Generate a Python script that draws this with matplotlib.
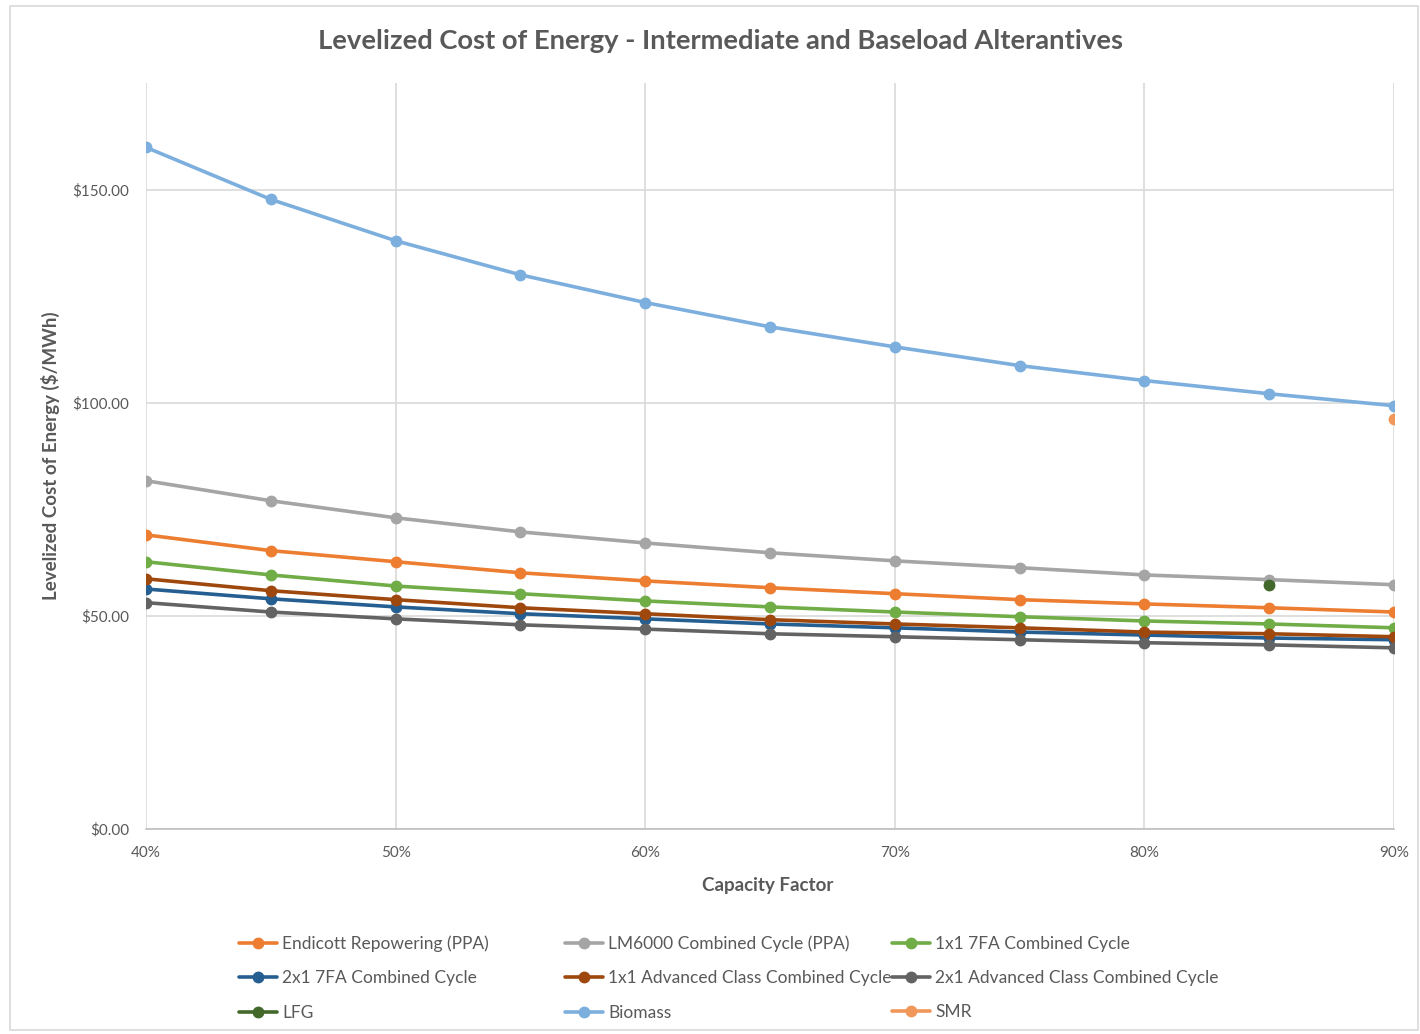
import numpy as np
import matplotlib.pyplot as plt
from matplotlib.patches import Rectangle
from matplotlib.ticker import FuncFormatter, MultipleLocator

plt.rcParams['font.family'] = ['Lato', 'DejaVu Sans']

capacity = [0.40, 0.45, 0.50, 0.55, 0.60, 0.65, 0.70, 0.75, 0.80, 0.85, 0.90]

endicott = [69.0, 65.3, 62.7, 60.1, 58.2, 56.6, 55.2, 53.8, 52.8, 51.9, 50.9]
lm6000 = [81.7, 77.0, 73.0, 69.7, 67.1, 64.8, 62.9, 61.3, 59.6, 58.5, 57.3]
fa_1x1 = [62.7, 59.6, 57.0, 55.2, 53.5, 52.1, 50.9, 49.8, 48.8, 48.1, 47.2]
fa_2x1 = [56.3, 54.0, 52.1, 50.5, 49.3, 48.1, 47.2, 46.2, 45.5, 44.8, 44.4]
adv_1x1 = [58.7, 55.9, 53.8, 51.9, 50.5, 49.1, 48.1, 47.2, 46.2, 45.8, 45.1]
adv_2x1 = [53.1, 50.9, 49.3, 47.9, 46.9, 45.8, 45.1, 44.4, 43.7, 43.2, 42.5]
biomass = [159.9, 147.7, 138.0, 130.0, 123.5, 117.8, 113.1, 108.7, 105.2, 102.1, 99.3]
lfg_x, lfg = [0.85], [57.3]
smr_x, smr = [0.90], [96.2]

series = [
    ('Endicott Repowering (PPA)', capacity, endicott, '#ED7D31'),
    ('LM6000 Combined Cycle (PPA)', capacity, lm6000, '#A5A5A5'),
    ('1x1 7FA Combined Cycle', capacity, fa_1x1, '#70AD47'),
    ('2x1 7FA Combined Cycle', capacity, fa_2x1, '#255E91'),
    ('1x1 Advanced Class Combined Cycle', capacity, adv_1x1, '#9E480E'),
    ('2x1 Advanced Class Combined Cycle', capacity, adv_2x1, '#636363'),
    ('LFG', lfg_x, lfg, '#43682B'),
    ('Biomass', capacity, biomass, '#7CAFDD'),
    ('SMR', smr_x, smr, '#F1975A'),
]

fig = plt.figure(figsize=(14.2, 10.34), dpi=100)
ax = fig.add_axes([146 / 1420, 1 - 829 / 1034, (1394 - 146) / 1420, (829 - 83) / 1034])

# chart border
fig.patches.append(Rectangle((10 / 1420, 1 - 1030 / 1034), 1408 / 1420, 1024 / 1034,
                             transform=fig.transFigure, fill=False,
                             edgecolor='#D9D9D9', linewidth=1.2))

handles = []
for name, xs, ys, col in series:
    h, = ax.plot(xs, ys, color=col, lw=2.6, marker='o', ms=7.5,
                 solid_capstyle='round', label=name)
    handles.append(h)

ax.set_xlim(0.40, 0.90)
ax.set_ylim(0, 175)
ax.xaxis.set_major_locator(MultipleLocator(0.10))
ax.yaxis.set_major_locator(MultipleLocator(50))
ax.xaxis.set_major_formatter(FuncFormatter(lambda v, p: f'{v * 100:.0f}%'))
ax.yaxis.set_major_formatter(FuncFormatter(lambda v, p: f'${v:.2f}'))
ax.grid(True, color='#D9D9D9', lw=1.2)
ax.set_axisbelow(True)
for s in ['top', 'right', 'left']:
    ax.spines[s].set_visible(False)
ax.spines['bottom'].set_color('#BFBFBF')
ax.spines['bottom'].set_linewidth(1.2)
ax.tick_params(length=0, labelsize=11, labelcolor='#595959', pad=12)

fig.text(720 / 1420, 1 - 41 / 1034, 'Levelized Cost of Energy - Intermediate and Baseload Alterantives',
         ha='center', va='center', fontsize=19.7, fontweight='bold', color='#595959')
fig.text(768 / 1420, 1 - 886 / 1034, 'Capacity Factor', ha='center', va='center',
         fontsize=13.5, fontweight='bold', color='#595959')
fig.text(50 / 1420, 1 - 456 / 1034, 'Levelized Cost of Energy ($/MWh)', ha='center', va='center',
         rotation=90, fontsize=13.5, fontweight='bold', color='#595959')

# legend: three equal-width columns, filled row by row
col_x = [230, 556, 883]
for c in range(3):
    hs = handles[c::3]
    leg = fig.legend(hs, [h.get_label() for h in hs], ncol=1, frameon=False,
                     loc='upper left', bbox_to_anchor=(col_x[c] / 1420, 1 - 927 / 1034),
                     fontsize=12.5, labelcolor='#595959', handlelength=2.2,
                     handletextpad=0.3, labelspacing=1.05, borderpad=0)

fig.savefig('out.png', dpi=100)
